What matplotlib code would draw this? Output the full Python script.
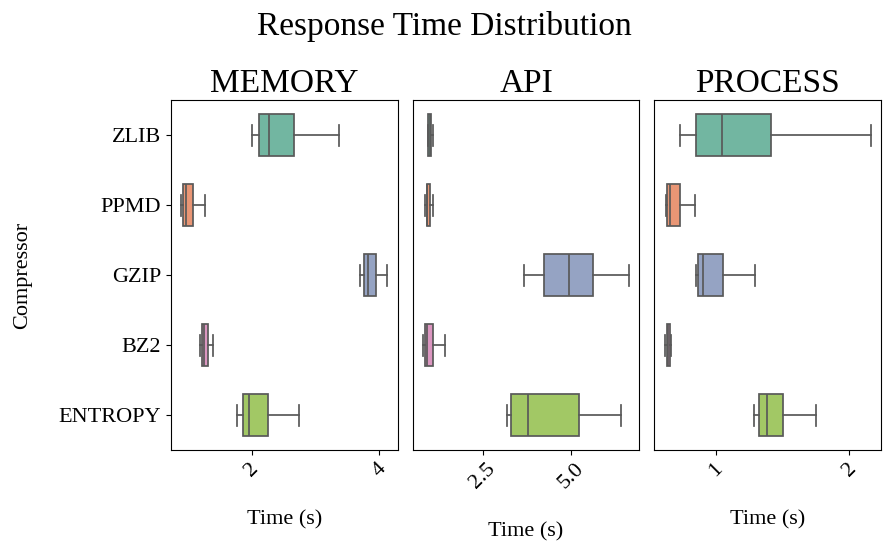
import matplotlib
matplotlib.use('Agg')
import matplotlib.pyplot as plt
import seaborn as sns

plt.rcParams['font.family'] = ['Liberation Serif', 'DejaVu Serif']

compressors = ['ZLIB', 'PPMD', 'GZIP', 'BZ2', 'ENTROPY']
panels = ['MEMORY', 'API', 'PROCESS']

# five-number summaries: whislo, q1, median, q3, whishi
memory_stats = [
    [2.00, 2.12, 2.28, 2.66, 3.37],
    [0.90, 0.93, 0.98, 1.08, 1.27],
    [3.70, 3.77, 3.83, 3.95, 4.13],
    [1.19, 1.23, 1.25, 1.31, 1.40],
    [1.78, 1.87, 1.96, 2.26, 2.75],
]
api_stats = [
    [0.95, 0.96, 1.00, 1.05, 1.09],
    [0.88, 0.91, 0.93, 1.01, 1.09],
    [3.68, 4.24, 4.94, 5.62, 6.64],
    [0.81, 0.86, 0.91, 1.09, 1.43],
    [3.19, 3.30, 3.78, 5.23, 6.41],
]
process_stats = [
    [0.731, 0.856, 1.048, 1.418, 2.160],
    [0.627, 0.634, 0.657, 0.734, 0.843],
    [0.851, 0.871, 0.903, 1.055, 1.296],
    [0.619, 0.634, 0.645, 0.657, 0.664],
    [1.291, 1.328, 1.381, 1.507, 1.754],
]
xticks = [[2, 4], [2.5, 5.0], [1, 2]]

colors = [sns.desaturate(c, 0.75) for c in sns.color_palette('Set2', 5)]
line_col = '0.35'

fig, axes = plt.subplots(1, 3, figsize=(8.89, 5.51), dpi=100, sharey=True)
fig.subplots_adjust(left=0.1924, right=0.991, top=0.8185, bottom=0.1833, wspace=0.066)

for ax, name, data, ticks in zip(axes, panels, [memory_stats, api_stats, process_stats], xticks):
    stats = []
    for lab, (lo, q1, med, q3, hi) in zip(compressors, data):
        stats.append({'label': lab, 'whislo': lo, 'q1': q1, 'med': med,
                      'q3': q3, 'whishi': hi, 'fliers': []})
    bp = ax.bxp(stats, positions=range(len(compressors)), orientation='horizontal',
                widths=0.6, capwidths=0.3, patch_artist=True, showfliers=False,
                boxprops=dict(edgecolor=line_col, linewidth=1.25),
                whiskerprops=dict(color=line_col, linewidth=1.25),
                capprops=dict(color=line_col, linewidth=1.25),
                medianprops=dict(color=line_col, linewidth=1.25))
    for patch, c in zip(bp['boxes'], colors):
        patch.set_facecolor(c)
    ax.set_ylim(4.5, -0.5)
    ax.set_xticks(ticks)
    ax.tick_params(axis='x', labelsize=16, labelrotation=45)
    ax.set_title(name, fontsize=24)
    ax.set_xlabel('Time (s)', fontsize=16, labelpad=21)

axes[0].set_yticks(range(len(compressors)))
axes[0].set_yticklabels(compressors)
axes[0].tick_params(axis='y', labelsize=16)
axes[0].set_ylabel('Compressor', fontsize=16, labelpad=19)
for ax in axes[1:]:
    ax.tick_params(axis='y', left=False, labelleft=False)

fig.suptitle('Response Time Distribution', fontsize=24, y=0.98)
fig.savefig('out.png', dpi=100)
